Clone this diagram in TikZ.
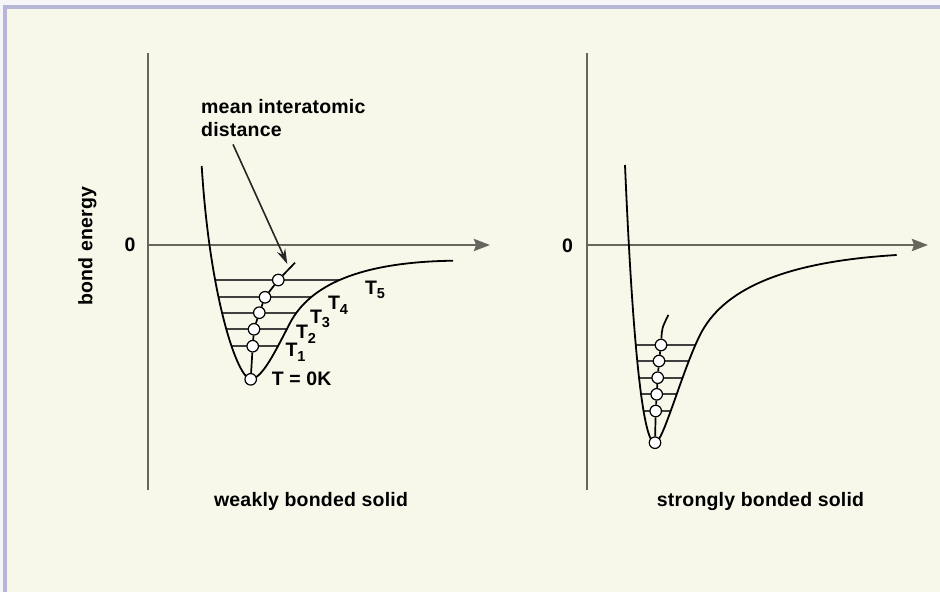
\documentclass[tikz,border=0pt]{standalone}
\usepackage{fontspec}
\setmainfont{Liberation Sans}[LetterSpace=1]
\usepackage{xcolor}
\usepackage{tikz}
\usetikzlibrary{arrows.meta,positioning,calc}

\definecolor{paper}{HTML}{F8F8EA}
\definecolor{frameblue}{HTML}{B6B6D6}
\definecolor{axisgray}{HTML}{66665E}
\newcommand{\tlevel}[1]{T\raisebox{-0.45ex}{\fontsize{14.5}{15}\selectfont #1}}

\begin{document}
\begin{tikzpicture}[
    x=1pt, y=-1pt,
    lbl/.style={inner sep=0pt, align=left, font=\bfseries\fontsize{19.5}{23}\selectfont},
    axis/.style={line width=2.6pt, draw=axisgray},
    axisarrow/.style={axis, -{Stealth[length=16pt, width=12pt, inset=2pt]}},
    well/.style={line width=1.8pt, draw=black},
    level/.style={line width=1.7pt, draw=black!75},
    atom/.style={circle, draw=black, fill=white, line width=1.2pt, inner sep=0pt, minimum size=11.5pt},
    arrow/.style={-{Stealth[length=15pt, width=9pt]}, line width=1.6pt, draw=black!85}
]
    % page and frame
    \fill [white!88!frameblue] (0,0) rectangle (940,592);
    \fill [frameblue] (3,5) rectangle (940,592);
    \fill [paper] (7,9) rectangle (940,592);
    \useasboundingbox (0,0) rectangle (940,592);

    % weakly bonded solid
    \coordinate (oA) at (148,245);
    \draw [axis] (148,53) -- (148,490);
    \draw [axisarrow] (oA) -- (490,245);
    \node [lbl] (zeroA) at (130,245) {0};
    \node [lbl, rotate=90] (ylab) at (87.5,246) {bond energy};

    \begin{scope}
        \clip (201.7,166) .. controls (210,300) and (238,379) .. (250.7,379)
            .. controls (262,379) and (275,352) .. (290,323)
            .. controls (310,285) and (360,262) .. (453,260.7) -- cycle;
        \foreach \y in {280,297.3,312.7,329.3,346}
            \draw [level] (150,\y) -- (480,\y);
    \end{scope}
    \draw [well] (201.7,166) .. controls (210,300) and (238,379) .. (250.7,379)
        .. controls (262,379) and (275,352) .. (290,323)
        .. controls (310,285) and (360,262) .. (453,260.7);

    \node [atom] (w0) at (250.7,379.3) {};
    \node [atom] (w1) at (252.7,346.2) {};
    \node [atom] (w2) at (254,329.3) {};
    \node [atom] (w3) at (259.3,312.7) {};
    \node [atom] (w4) at (265,297.3) {};
    \node [atom] (w5) at (278.3,280) {};
    \coordinate (wtop) at (295,262.7);
    \draw [level, draw=black] (w0) -- (w1) -- (w2) -- (w3) -- (w4) -- (w5) -- (wtop);

    \node [lbl, anchor=west] (mid) at (201,118.5) {mean interatomic\\distance};
    \coordinate (mtip) at (287.3,264);
    \draw [arrow] ($(mid.south west)+(32,7)$) -- (mtip);

    \node [lbl] (t0) at (301.7,379) {T = 0K};
    \node [lbl] (t1) at (295.5,352.5) {\tlevel{1}};
    \node [lbl] (t2) at (306,334) {\tlevel{2}};
    \node [lbl] (t3) at (320,319) {\tlevel{3}};
    \node [lbl] (t4) at (338,305) {\tlevel{4}};
    \node [lbl] (t5) at (375,290) {\tlevel{5}};

    \node [lbl] (capA) at (311,501) {weakly bonded solid};

    % strongly bonded solid
    \coordinate (oB) at (587,245);
    \draw [axis] (587,53) -- (587,490);
    \draw [axisarrow] (oB) -- (928,245);
    \node [lbl] (zeroB) at (567.5,245.5) {0};

    \begin{scope}
        \clip (625,165) .. controls (632,330) and (642,443) .. (655,443)
            .. controls (663,443) and (682,371) .. (700,335)
            .. controls (722,291) and (780,262) .. (896.7,255) -- cycle;
        \foreach \y in {345,361,377.7,394.3,411}
            \draw [level] (590,\y) -- (900,\y);
    \end{scope}
    \draw [well] (625,165) .. controls (632,330) and (642,443) .. (655,443)
        .. controls (663,443) and (682,371) .. (700,335)
        .. controls (722,291) and (780,262) .. (896.7,255);

    \node [atom] (s0) at (655,442.7) {};
    \node [atom] (s1) at (655.7,411) {};
    \node [atom] (s2) at (656.7,394.3) {};
    \node [atom] (s3) at (657.7,377.7) {};
    \node [atom] (s4) at (659,361) {};
    \node [atom] (s5) at (661,345) {};
    \coordinate (stop) at (668.3,315);
    \draw [level, draw=black] (s0) -- (s1) -- (s2) -- (s3) -- (s4) -- (s5) .. controls (662,328) .. (stop);

    \node [lbl] (capB) at (760.5,501) {strongly bonded solid};
\end{tikzpicture}
\end{document}
